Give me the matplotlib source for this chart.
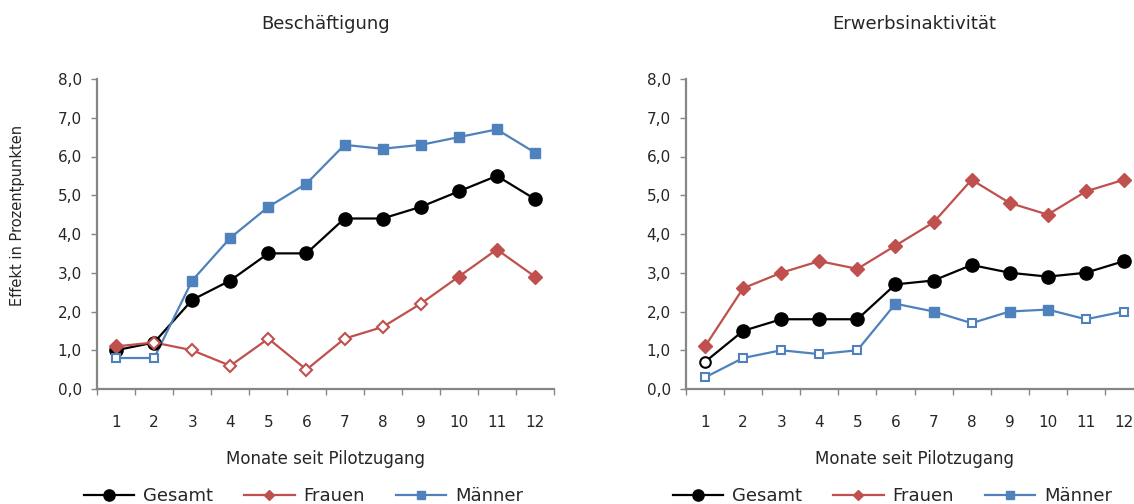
import numpy as np
from matplotlib import pyplot as plt
from matplotlib.lines import Line2D

plt.rcParams['font.family'] = ['DejaVu Sans']
plt.rcParams['text.color'] = '#262626'
plt.rcParams['axes.labelcolor'] = '#262626'

monate = list(range(1, 13))

# Beschäftigung
besch_gesamt = [1.0, 1.2, 2.3, 2.8, 3.5, 3.5, 4.4, 4.4, 4.7, 5.1, 5.5, 4.9]
besch_frauen = [1.1, 1.2, 1.0, 0.6, 1.3, 0.5, 1.3, 1.6, 2.2, 2.9, 3.6, 2.9]
besch_maenner = [0.8, 0.8, 2.8, 3.9, 4.7, 5.3, 6.3, 6.2, 6.3, 6.5, 6.7, 6.1]
besch_gesamt_sig = [1, 1, 1, 1, 1, 1, 1, 1, 1, 1, 1, 1]
besch_frauen_sig = [1, 0, 0, 0, 0, 0, 0, 0, 0, 1, 1, 1]
besch_maenner_sig = [0, 0, 1, 1, 1, 1, 1, 1, 1, 1, 1, 1]

# Erwerbsinaktivität
inakt_gesamt = [0.7, 1.5, 1.8, 1.8, 1.8, 2.7, 2.8, 3.2, 3.0, 2.9, 3.0, 3.3]
inakt_frauen = [1.1, 2.6, 3.0, 3.3, 3.1, 3.7, 4.3, 5.4, 4.8, 4.5, 5.1, 5.4]
inakt_maenner = [0.3, 0.8, 1.0, 0.9, 1.0, 2.2, 2.0, 1.7, 2.0, 2.05, 1.8, 2.0]
inakt_gesamt_sig = [0, 1, 1, 1, 1, 1, 1, 1, 1, 1, 1, 1]
inakt_frauen_sig = [1, 1, 1, 1, 1, 1, 1, 1, 1, 1, 1, 1]
inakt_maenner_sig = [0, 0, 0, 0, 0, 1, 1, 0, 1, 1, 0, 0]

labels = ['Gesamt', 'Frauen', 'Männer']
farben = ['black', '#C0504D', '#4F81BD']
marker = ['o', 'D', 's']
msize = [9.5, 7.3, 7.0]
grau = '#868686'


def panel(ax, titel, reihen, sigs, ylabel=False):
    x = np.array(monate)
    for y, sig, c, m, ms in zip(reihen, sigs, farben, marker, msize):
        y = np.array(y)
        sig = np.array(sig, dtype=bool)
        ax.plot(x, y, color=c, lw=1.6, zorder=2)
        ax.plot(x[sig], y[sig], ls='none', marker=m, ms=ms, color=c,
                mec=c, zorder=3)
        # nicht signifikant: offene Marker
        ax.plot(x[~sig], y[~sig], ls='none', marker=m, ms=ms * 0.8, mfc='white',
                mec=c, mew=1.5, zorder=3)
    ax.set_xlim(0.5, 12.5)
    ax.set_ylim(0, 8)
    ax.set_yticks(np.arange(0, 8.1, 1))
    ax.set_yticklabels([f'{v:.1f}'.replace('.', ',') for v in np.arange(0, 8.1, 1)])
    ax.set_xticks(monate)
    ax.set_xticklabels([str(m) for m in monate])
    ax.set_xticks(np.arange(0.5, 12.6, 1), minor=True)
    ax.tick_params(axis='x', which='major', length=0, pad=19, labelsize=11,
                   labelcolor='#262626')
    ax.tick_params(axis='x', which='minor', length=4, width=1, color=grau)
    ax.tick_params(axis='y', length=4, width=1, color=grau, labelsize=11, pad=7,
                   labelcolor='#262626')
    for s in ['top', 'right']:
        ax.spines[s].set_visible(False)
    for s in ['left', 'bottom']:
        ax.spines[s].set_color(grau)
        ax.spines[s].set_linewidth(1.6)
    ax.set_xlabel('Monate seit Pilotzugang', fontsize=12, labelpad=14)
    if ylabel:
        ax.set_ylabel('Effekt in Prozentpunkten', fontsize=10.5)
        ax.yaxis.set_label_coords(-72 / 457, 0.56)
    ax.set_title(titel, fontsize=13, pad=36)
    handles = [Line2D([], [], color=c, marker=m, ms=ms * 0.85 if m == 'o' else ms * 0.75, lw=1.6)
               for c, m, ms in zip(farben, marker, msize)]
    ax.legend(handles, labels, ncol=3, frameon=False, fontsize=13,
              loc='center', bbox_to_anchor=(0.452, -0.345), handlelength=2.8,
              columnspacing=1.7, handletextpad=0.5)


fig = plt.figure(figsize=(11.34, 5.04), dpi=100)
ax1 = fig.add_axes([97 / 1134, 115 / 504, 457 / 1134, 310 / 504])
ax2 = fig.add_axes([686 / 1134, 115 / 504, 457 / 1134, 310 / 504])

panel(ax1, 'Beschäftigung', [besch_gesamt, besch_frauen, besch_maenner],
      [besch_gesamt_sig, besch_frauen_sig, besch_maenner_sig], ylabel=True)
panel(ax2, 'Erwerbsinaktivität', [inakt_gesamt, inakt_frauen, inakt_maenner],
      [inakt_gesamt_sig, inakt_frauen_sig, inakt_maenner_sig])

fig.savefig('out.png', dpi=100)
